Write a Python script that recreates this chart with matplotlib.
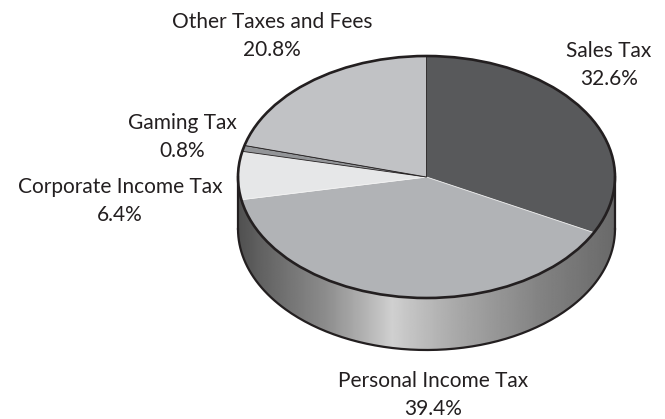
import numpy as np
import matplotlib
matplotlib.use("Agg")
import matplotlib.pyplot as plt
from matplotlib.path import Path
from matplotlib.patches import PathPatch, Ellipse

categories = ["Sales Tax", "Personal Income Tax", "Corporate Income Tax", "Gaming Tax", "Other Taxes and Fees"]
values = [32.6, 39.4, 6.4, 0.8, 20.8]
colors = ["#58595b", "#b1b3b6", "#e6e7e8", "#939598", "#c1c2c5"]
edges = ["#58595b", "#f2f2f2", "#f2f2f2", "#231f20", "#231f20"]
label_xy = [(609, 65), (433, 395), (120, 201), (182, 137), (272, 36)]

W, H = 665, 419
CX, CY, RX, RY, DEPTH = 426.5, 177.0, 188.5, 121.0, 52.0
INK = "#231f20"

plt.rcParams["font.family"] = ["Lato", "DejaVu Sans"]
fig = plt.figure(figsize=(W / 100, H / 100), dpi=100, facecolor="white")
ax = fig.add_axes([0, 0, 1, 1])

wedges, _ = ax.pie(values, colors=colors, startangle=90, counterclock=False, frame=True,
                   wedgeprops=dict(linewidth=0.6))
for w, e in zip(wedges, edges):
    w.set_edgecolor(e)
    w.set_zorder(3)

ax.axis("off")

# side wall of the disc
d = DEPTH / RY
t = np.linspace(np.pi, 2 * np.pi, 200)
verts = np.r_[np.c_[np.cos(t), np.sin(t) - d],
              np.c_[np.cos(t[::-1]), np.sin(t[::-1])]]
side_path = Path(np.r_[verts, verts[:1]], closed=False)

stops_px = np.array([238, 258, 325, 368, 392, 410, 458, 542, 608, 615])
stops_v = np.array([0x50, 0x60, 0x8c, 0xb6, 0xd0, 0xc4, 0xa8, 0x82, 0x6c, 0x68]) / 255
xs = np.linspace(238, 615, 400)
grad = np.interp(xs, stops_px, stops_v)[None, :]
im = ax.imshow(grad, cmap="gray", vmin=0, vmax=1, aspect="auto", zorder=1,
               extent=(-1, 1, -1 - d, 0), interpolation="bilinear")
clip = PathPatch(side_path, transform=ax.transData, facecolor="none", edgecolor="none")
ax.add_patch(clip)
im.set_clip_path(clip)
ax.set_xlim(-CX / RX, (W - CX) / RX)
ax.set_ylim(-(H - CY) / RY, CY / RY)
ax.set_aspect("auto")

ax.plot(np.cos(t), np.sin(t) - d, color=INK, lw=1.6, zorder=4)
ax.plot([-1, -1], [0, -d], color=INK, lw=1.6, zorder=4)
ax.plot([1, 1], [0, -d], color=INK, lw=1.6, zorder=4)
ax.add_patch(Ellipse((0, 0), 2, 2, facecolor="none", edgecolor=INK, lw=1.9, zorder=5))

for name, v, (x, y) in zip(categories, values, label_xy):
    fig.text(x / W, 1 - y / H, f"{name}\n{v:.1f}%", ha="center", va="center",
             fontsize=15, color=INK, linespacing=1.5)

fig.savefig("out.png", dpi=100)
